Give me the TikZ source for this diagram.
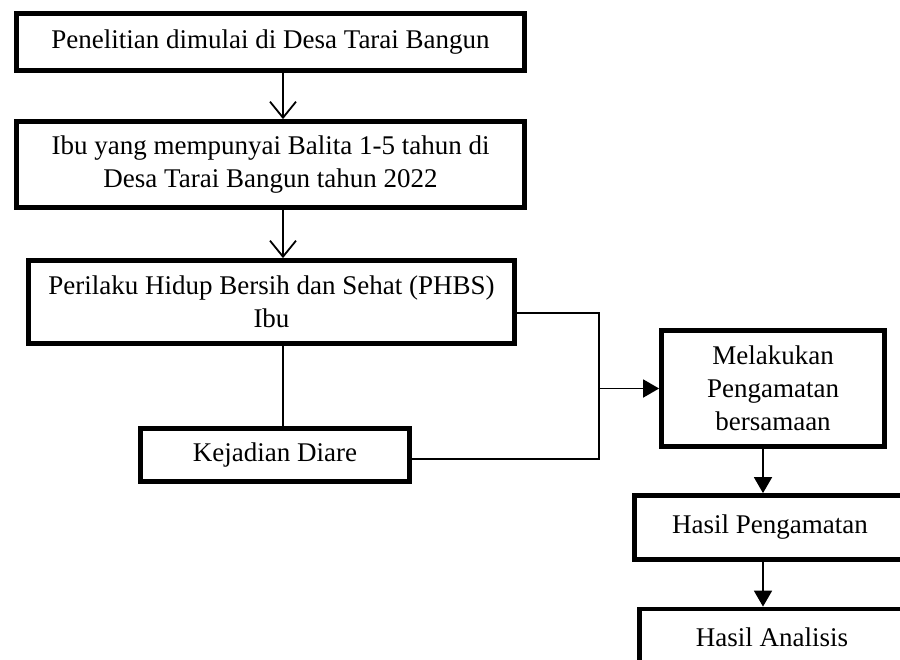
\documentclass[tikz,border=0pt]{standalone}
\usepackage{fontspec}
\setmainfont{Liberation Serif}
\usetikzlibrary{arrows.meta}
\begin{document}
\begin{tikzpicture}[x=0.5pt, y=-0.5pt,
    kotak/.style={draw, line width=2.4pt, inner sep=0pt, align=center,
      font=\fontsize{13.5}{16.5}\selectfont},
    panah/.style={line width=0.9pt, -{Straight Barb[length=8pt,width=13pt]}},
    panahb/.style={line width=0.9pt, -{Triangle[length=8pt,width=9pt]}}]
    \useasboundingbox (0,0) rectangle (900,659);
    \clip (0,0) rectangle (900,659);
    \node[kotak, minimum width=254pt, minimum height=28.5pt] (mulai) at (270.5,42)
      {Penelitian dimulai di Desa Tarai Bangun};
    \node[kotak, minimum width=254pt, minimum height=43pt] (ibu) at (270.5,164.5)
      {Ibu yang mempunyai Balita 1-5 tahun di\\Desa Tarai Bangun tahun 2022};
    \node[kotak, minimum width=243pt, minimum height=41.5pt] (phbs) at (271.5,302)
      {Perilaku Hidup Bersih dan Sehat (PHBS)\\Ibu};
    \node[kotak, minimum width=134.5pt, minimum height=26.5pt] (diare) at (275,455)
      {Kejadian Diare};
    \node[kotak, minimum width=111.5pt, minimum height=58pt] (amati) at (773,388.5)
      {Melakukan\\Pengamatan\\bersamaan};
    \node[kotak, minimum width=135.5pt, minimum height=32pt] (hasil) at (770,527.5)
      {Hasil Pengamatan};
    \node[kotak, minimum width=132.5pt, minimum height=28pt] (analisis) at (772,637)
      {Hasil Analisis};
    \coordinate (kol) at (283,0);
    \coordinate (kol2) at (763,0);
    \coordinate (atas) at (599,313);
    \coordinate (bawah) at (599,459);
    \draw[panah] (mulai.south -| kol) -- (ibu.north -| kol);
    \draw[panah] (ibu.south -| kol) -- (phbs.north -| kol);
    \draw[line width=0.9pt] (phbs.south -| kol) -- (diare.north -| kol);
    \draw[line width=0.9pt] (phbs.east |- atas) -- (atas) -- (bawah) -- (diare.east |- bawah);
    \draw[panahb] (atas |- amati.west) -- (amati.west);
    \draw[panahb] (amati.south -| kol2) -- (hasil.north -| kol2);
    \draw[panahb] (hasil.south -| kol2) -- (analisis.north -| kol2);
  \end{tikzpicture}
\end{document}
